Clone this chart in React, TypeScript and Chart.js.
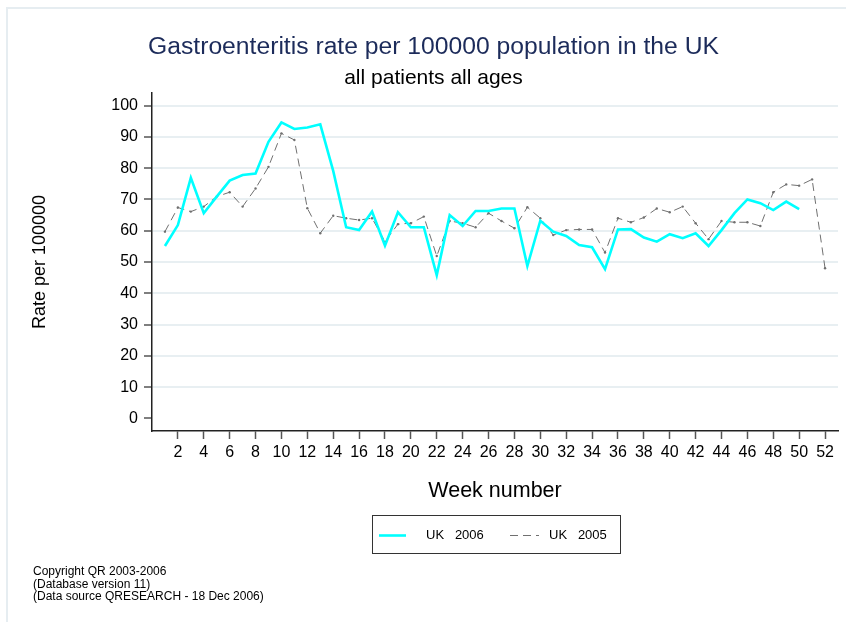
import React, { useEffect, useRef } from "react";
import { Chart, registerables } from "chart.js";

Chart.register(...registerables);

const weeks2006 = [1, 2, 3, 4, 5, 6, 7, 8, 9, 10, 11, 12, 13, 14, 15, 16, 17, 18, 19, 20, 21, 22, 23, 24, 25, 26, 27, 28, 29, 30, 31, 32, 33, 34, 35, 36, 37, 38, 39, 40, 41, 42, 43, 44, 45, 46, 47, 48, 49, 50];
const rate2006 = [55.1, 61.8, 76.9, 65.6, 70.9, 76.0, 77.8, 78.3, 88.4, 94.6, 92.5, 93.0, 94.0, 79.1, 61.1, 60.2, 66.1, 55.2, 65.9, 61.1, 61.1, 45.8, 65.0, 61.5, 66.3, 66.3, 67.1, 67.1, 48.7, 63.2, 59.7, 58.3, 55.4, 54.7, 47.7, 60.4, 60.5, 57.8, 56.5, 58.9, 57.6, 59.2, 55.1, 60.2, 65.6, 70.0, 68.8, 66.6, 69.3, 66.9];

const weeks2005 = [1, 2, 3, 4, 5, 6, 7, 8, 9, 10, 11, 12, 13, 14, 15, 16, 17, 18, 19, 20, 21, 22, 23, 24, 25, 26, 27, 28, 29, 30, 31, 32, 33, 34, 35, 36, 37, 38, 39, 40, 41, 42, 43, 44, 45, 46, 47, 48, 49, 50, 51, 52];
const rate2005 = [59.7, 67.4, 66.1, 67.7, 70.9, 72.3, 67.7, 73.5, 80.4, 91.1, 89.0, 67.2, 59.2, 64.8, 64.0, 63.4, 64.0, 56.5, 62.1, 62.4, 64.5, 51.9, 63.1, 62.4, 61.1, 65.6, 63.1, 60.8, 67.5, 64.0, 58.6, 60.2, 60.4, 60.4, 53.0, 64.0, 62.7, 64.2, 67.1, 65.9, 67.7, 62.4, 57.3, 63.1, 62.7, 62.7, 61.5, 72.3, 74.8, 74.4, 76.4, 48.0];

const weekTicks = [2, 4, 6, 8, 10, 12, 14, 16, 18, 20, 22, 24, 26, 28, 30, 32, 34, 36, 38, 40, 42, 44, 46, 48, 50, 52];
const rateTicks = [0, 10, 20, 30, 40, 50, 60, 70, 80, 90, 100];

const seriesLabels = ["UK   2006", "UK   2005"];
const titleText = "Gastroenteritis rate per 100000 population in the UK";
const subtitleText = "all patients all ages";
const footerLines = ["Copyright QR 2003-2006", "(Database version 11)", "(Data source QRESEARCH - 18 Dec 2006)"];

const FONT = "'Liberation Sans', Arial, Helvetica, sans-serif";

export default function App() {
  const ref = useRef<HTMLCanvasElement | null>(null);

  useEffect(() => {
    if (!ref.current) return;
    const chart = new Chart(ref.current, {
      type: "line",
      data: {
        datasets: [
          {
            label: seriesLabels[0],
            data: weeks2006.map((w, i) => ({ x: w, y: rate2006[i] })),
            borderColor: "#00ffff",
            borderWidth: 2.6,
            pointRadius: 0,
            tension: 0,
          },
          {
            label: seriesLabels[1],
            data: weeks2005.map((w, i) => ({ x: w, y: rate2005[i] })),
            borderColor: "#707070",
            borderWidth: 1,
            borderDash: [8, 5],
            pointRadius: 1.2,
            pointBorderWidth: 0,
            pointBackgroundColor: "#707070",
            tension: 0,
          },
        ],
      },
      options: {
        responsive: false,
        animation: false,
        font: { family: FONT },
        layout: { padding: { left: 20, top: 93, right: 8, bottom: 118 } },
        plugins: {
          legend: { display: false },
          tooltip: { enabled: false },
        },
        scales: {
          x: {
            type: "linear",
            min: 0,
            max: 53,
            afterBuildTicks: (s: any) => {
              s.ticks = weekTicks.map((v) => ({ value: v }));
            },
            afterFit: (s: any) => {
              s.height = 73;
            },
            ticks: {
              autoSkip: false,
              maxRotation: 0,
              minRotation: 0,
              padding: 4,
              color: "#000",
              font: { family: FONT, size: 16 },
            },
            grid: {
              drawOnChartArea: false,
              drawTicks: true,
              tickLength: 8,
              tickColor: "#555",
              tickWidth: 1.5,
            },
            border: { color: "#222", width: 1.5 },
            title: {
              display: true,
              text: "Week number",
              color: "#000",
              font: { family: FONT, size: 21.5 },
              padding: { top: 0, bottom: 0 },
            },
          },
          y: {
            type: "linear",
            min: -4,
            max: 104,
            afterBuildTicks: (s: any) => {
              s.ticks = rateTicks.map((v) => ({ value: v }));
            },
            afterFit: (s: any) => {
              s.width = 132;
            },
            ticks: {
              padding: 6,
              color: "#000",
              font: { family: FONT, size: 16 },
            },
            grid: {
              color: (ctx: any) => (ctx.tick && ctx.tick.value === 0 ? "rgba(0,0,0,0)" : "#e8eff2"),
              lineWidth: 2,
              drawTicks: true,
              tickLength: 8,
              tickColor: "#555",
              tickWidth: 1.5,
            },
            border: { color: "#222", width: 1.5 },
            title: {
              display: true,
              text: "Rate per 100000",
              color: "#000",
              font: { family: FONT, size: 18 },
              padding: { top: 9, bottom: 0 },
            },
          },
        },
      },
    });
    return () => chart.destroy();
  }, []);

  return (
    <div
      style={{
        position: "fixed",
        left: 0,
        top: 0,
        width: 846,
        height: 622,
        background: "#fff",
        overflow: "hidden",
        fontFamily: FONT,
      }}
    >
      <div
        style={{
          position: "absolute",
          left: 6,
          top: 7,
          right: -10,
          bottom: -10,
          borderLeft: "2px solid #e6edf1",
          borderTop: "2px solid #e6edf1",
        }}
      />
      <canvas ref={ref} width={846} height={622} style={{ position: "absolute", left: 0, top: 0, width: 846, height: 622 }} />
      <div
        style={{
          position: "absolute",
          left: 0,
          width: 867,
          top: 31,
          textAlign: "center",
          fontSize: 24.7,
          lineHeight: "30px",
          color: "#1c2b5a",
          whiteSpace: "nowrap",
        }}
      >
        {titleText}
      </div>
      <div
        style={{
          position: "absolute",
          left: 0,
          width: 867,
          top: 64,
          textAlign: "center",
          fontSize: 21,
          lineHeight: "26px",
          color: "#000",
          whiteSpace: "nowrap",
        }}
      >
        {subtitleText}
      </div>
      <div
        style={{
          position: "absolute",
          left: 372,
          top: 515,
          width: 247,
          height: 37,
          border: "1px solid #333",
          fontSize: 13,
          color: "#000",
        }}
      >
        <svg width={247} height={37} style={{ position: "absolute", left: 0, top: 0 }}>
          <line x1={6} y1={19.5} x2={33} y2={19.5} stroke="#00ffff" strokeWidth={2.6} />
          <line x1={137} y1={19.5} x2={166} y2={19.5} stroke="#707070" strokeWidth={1} strokeDasharray="8,5" />
        </svg>
        <div style={{ position: "absolute", left: 53, top: 11, lineHeight: "16px", whiteSpace: "pre" }}>{seriesLabels[0]}</div>
        <div style={{ position: "absolute", left: 176, top: 11, lineHeight: "16px", whiteSpace: "pre" }}>{seriesLabels[1]}</div>
      </div>
      <div
        style={{
          position: "absolute",
          left: 33,
          top: 565,
          fontSize: 12,
          lineHeight: "12.5px",
          color: "#000",
          whiteSpace: "pre",
        }}
      >
        {footerLines.map((l, i) => (
          <div key={i}>{l}</div>
        ))}
      </div>
    </div>
  );
}
